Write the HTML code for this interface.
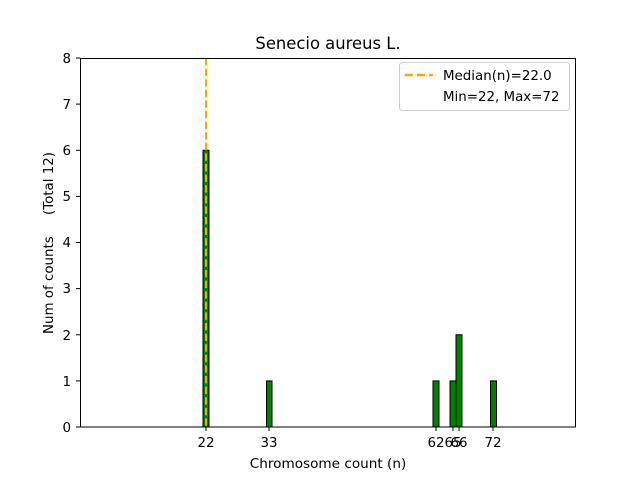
<!DOCTYPE html>
<html><head><meta charset="utf-8"><style>body{margin:0;background:#fff}svg{display:block}text{font-family:"DejaVu Sans","Liberation Sans",sans-serif;fill:#000}</style></head>
<body>
<svg width="640" height="480" viewBox="0 0 640 480">
<rect width="640" height="480" fill="#fff"/>
<line x1="80" y1="427" x2="513" y2="427" stroke="#bbb" stroke-width="1"/>
<g fill="#008000" stroke="#000" stroke-width="1">
<rect x="203" y="150.25" width="6" height="276.75"/>
<rect x="266.5" y="380.9" width="5.5" height="46.1"/>
<rect x="433" y="380.9" width="6" height="46.1"/>
<rect x="450" y="380.9" width="6" height="46.1"/>
<rect x="456" y="334.75" width="6" height="92.25"/>
<rect x="490.5" y="380.9" width="6" height="46.1"/>
</g>
<line x1="206" y1="58" x2="206" y2="427" stroke="#FFA500" stroke-width="2" stroke-dasharray="7.4,3.2"/>
<rect x="80.5" y="58.5" width="495" height="368.5" fill="none" stroke="#000" stroke-width="1"/>
<g stroke="#000" stroke-width="1">
<line x1="206" y1="427" x2="206" y2="431"/><line x1="269" y1="427" x2="269" y2="431"/>
<line x1="436" y1="427" x2="436" y2="431"/><line x1="453" y1="427" x2="453" y2="431"/>
<line x1="459" y1="427" x2="459" y2="431"/><line x1="493" y1="427" x2="493" y2="431"/>
<line x1="76" y1="427" x2="80" y2="427"/><line x1="76" y1="380.9" x2="80" y2="380.9"/>
<line x1="76" y1="334.75" x2="80" y2="334.75"/><line x1="76" y1="288.6" x2="80" y2="288.6"/>
<line x1="76" y1="242.5" x2="80" y2="242.5"/><line x1="76" y1="196.4" x2="80" y2="196.4"/>
<line x1="76" y1="150.25" x2="80" y2="150.25"/><line x1="76" y1="104.1" x2="80" y2="104.1"/>
<line x1="76" y1="58" x2="80" y2="58"/>
</g>
<g font-size="13.4" text-anchor="middle">
<text x="206" y="447">22</text><text x="269" y="447">33</text>
<text x="436" y="447">62</text><text x="453" y="447">65</text><text x="459" y="447">66</text>
<text x="493" y="447">72</text>
</g>
<g font-size="13.4" text-anchor="end">
<text x="71" y="432">0</text><text x="71" y="386">1</text><text x="71" y="340">2</text>
<text x="71" y="293">3</text><text x="71" y="247">4</text><text x="71" y="201">5</text>
<text x="71" y="155">6</text><text x="71" y="109">7</text><text x="71" y="63">8</text>
</g>
<text x="328" y="468" font-size="13.6" text-anchor="middle">Chromosome count (n)</text>
<text transform="translate(53,243) rotate(-90)" font-size="13.4" text-anchor="middle" style="white-space:pre" xml:space="preserve">Num of counts     (Total 12)</text>
<text x="328" y="49" font-size="16.4" text-anchor="middle">Senecio aureus L.</text>
<rect x="399.5" y="62.5" width="170" height="48" rx="3" fill="#fff" fill-opacity="0.8" stroke="#ccc"/>
<line x1="405" y1="75" x2="433" y2="75" stroke="#FFA500" stroke-width="2.5" stroke-dasharray="8,4"/>
<text x="443" y="80" font-size="13.4">Median(n)=22.0</text>
<text x="443" y="101" font-size="13.4">Min=22, Max=72</text>
</svg>
</body></html>
